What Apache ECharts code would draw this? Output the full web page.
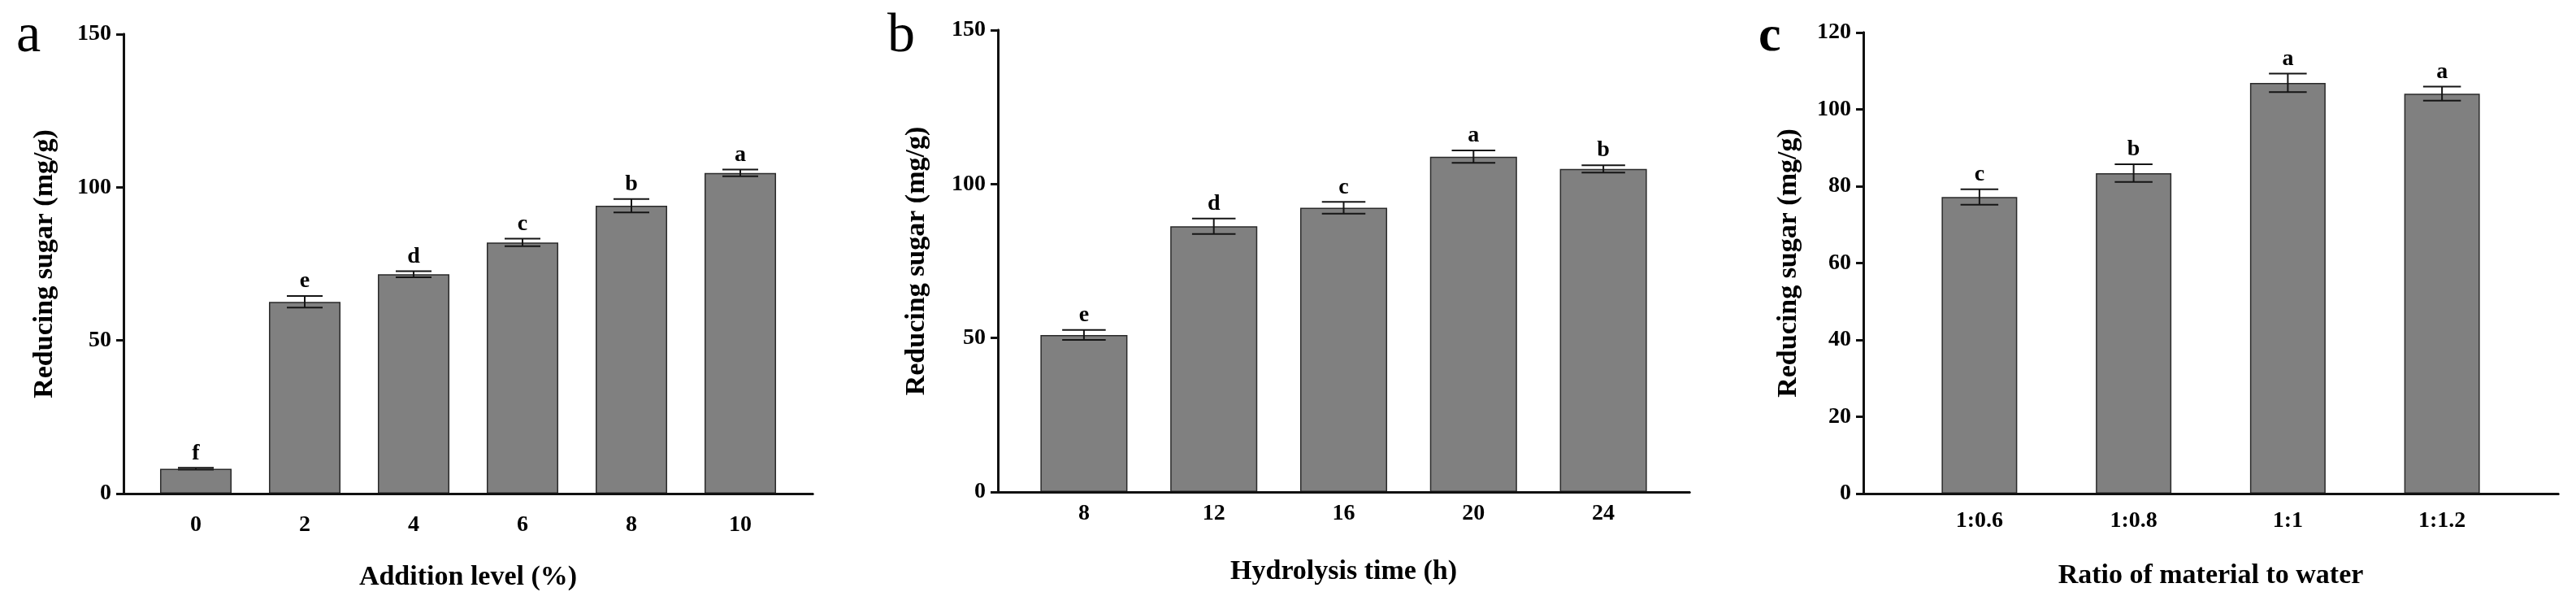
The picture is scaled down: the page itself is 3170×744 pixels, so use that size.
<!DOCTYPE html>
<html><head><meta charset="utf-8">
<script src="https://cdn.jsdelivr.net/npm/echarts@6/dist/echarts.min.js"></script>
<style>html,body{margin:0;padding:0;background:#fff;}#c{width:3170px;height:744px;}</style>
</head><body><div id="c"></div>
<script>
// ---- Data ----
const catsA = ['0', '2', '4', '6', '8', '10'];
const meansA = [8.1, 62.6, 71.6, 82.0, 94.0, 104.7];
const sdA = [0.3, 1.9, 1.0, 1.2, 2.2, 1.1];
const lettersA = ['f', 'e', 'd', 'c', 'b', 'a'];

const catsB = ['8', '12', '16', '20', '24'];
const meansB = [51.0, 86.3, 92.3, 108.9, 104.9];
const sdB = [1.6, 2.5, 1.9, 2.0, 1.2];
const lettersB = ['e', 'd', 'c', 'a', 'b'];

const catsC = ['1:0.6', '1:0.8', '1:1', '1:1.2'];
const meansC = [77.2, 83.4, 106.9, 104.1];
const sdC = [2.0, 2.3, 2.4, 1.8];
const lettersC = ['c', 'b', 'a', 'a'];

const yTitle = 'Reducing sugar (mg/g)';
const xTitleA = 'Addition level (%)';
const xTitleB = 'Hydrolysis time (h)';
const xTitleC = 'Ratio of material to water';

// ---- Layout / style ----
const FONT = '"Liberation Serif", "Times New Roman", serif';
const INK = '#111';
const panels = [
  { cats: catsA, means: meansA, sd: sdA, letters: lettersA, xTitle: xTitleA,
    frame: { left: 152, right: 1000, top: 42, bottom: 607 }, inset: 22, barW: 0.657,
    yMax: 150, yInt: 50, yNameGap: 80, xLabelMargin: 25, xNameGap: 86 },
  { cats: catsB, means: meansB, sd: sdB, letters: lettersB, xTitle: xTitleB,
    frame: { left: 1228, right: 2079, top: 37, bottom: 605 }, inset: 26, barW: 0.67,
    yMax: 150, yInt: 50, yNameGap: 83, xLabelMargin: 13, xNameGap: 81 },
  { cats: catsC, means: meansC, sd: sdC, letters: lettersC, xTitle: xTitleC,
    frame: { left: 2293, right: 3148, top: 40, bottom: 607 }, inset: 48, barW: 0.49,
    yMax: 120, yInt: 20, yNameGap: 75, xLabelMargin: 20, xNameGap: 84 }
];

const grid = [], xAxis = [], yAxis = [], series = [];
panels.forEach((p, k) => {
  const f = p.frame;
  const fg = grid.length;
  grid.push({ left: f.left, top: f.top, width: f.right - f.left, height: f.bottom - f.top });
  const bg = grid.length;
  grid.push({ left: f.left + p.inset, top: f.top, width: f.right - f.left - 2 * p.inset, height: f.bottom - f.top });

  const lineS = { show: true, lineStyle: { color: INK, width: 3 } };
  // frame axes
  const fxb = xAxis.length;
  xAxis.push({ gridIndex: fg, type: 'value', min: 0, max: 1, position: 'bottom', z: 10,
    axisLine: lineS, axisTick: { show: false }, axisLabel: { show: false }, splitLine: { show: false } });
  xAxis.push({ gridIndex: fg, type: 'value', min: 0, max: 1, position: 'top', z: 10,
    axisLine: lineS, axisTick: { show: false }, axisLabel: { show: false }, splitLine: { show: false } });
  yAxis.push({ gridIndex: fg, type: 'value', min: 0, max: p.yMax, interval: p.yInt, position: 'left', z: 10,
    axisLine: lineS,
    axisTick: { show: true, inside: false, length: 9, lineStyle: { color: INK, width: 3 } },
    axisLabel: { fontFamily: FONT, fontWeight: 'bold', fontSize: 28, color: '#000', margin: 15 },
    splitLine: { show: false },
    name: yTitle, nameLocation: 'middle', nameGap: p.yNameGap, nameRotate: 90,
    nameTextStyle: { fontFamily: FONT, fontWeight: 'bold', fontSize: 34, color: '#000' } });
  yAxis.push({ gridIndex: fg, type: 'value', min: 0, max: p.yMax, position: 'right', z: 10,
    axisLine: lineS, axisTick: { show: false }, axisLabel: { show: false }, splitLine: { show: false } });

  // bar axes
  const bx = xAxis.length;
  xAxis.push({ gridIndex: bg, type: 'category', data: p.cats, position: 'bottom',
    axisLine: { show: false }, axisTick: { show: false },
    axisLabel: { fontFamily: FONT, fontWeight: 'bold', fontSize: 28, color: '#000', margin: p.xLabelMargin },
    name: p.xTitle, nameLocation: 'middle', nameGap: p.xNameGap,
    nameTextStyle: { fontFamily: FONT, fontWeight: 'bold', fontSize: 34, color: '#000' } });
  const by = yAxis.length;
  yAxis.push({ gridIndex: bg, type: 'value', min: 0, max: p.yMax, show: false });

  series.push({ type: 'bar', xAxisIndex: bx, yAxisIndex: by, data: p.means,
    barWidth: (p.barW * 100) + '%',
    itemStyle: { color: '#808080', borderColor: '#2a2a2a', borderWidth: 1.5 } });

  const ratio = p.barW;
  const letters = p.letters;
  series.push({ type: 'custom', xAxisIndex: bx, yAxisIndex: by, z: 6,
    data: p.means.map((m, i) => [i, m, p.sd[i]]),
    renderItem: function (params, api) {
      const i = api.value(0), m = api.value(1), s = api.value(2);
      const t = api.coord([i, m + s]);
      const b = api.coord([i, m - s]);
      const band = api.size([1, 0])[0];
      const hw = band * ratio / 4;
      const x = t[0];
      const st = { stroke: '#151515', lineWidth: 2 };
      return { type: 'group', children: [
        { type: 'line', shape: { x1: x, y1: t[1], x2: x, y2: b[1] }, style: st },
        { type: 'line', shape: { x1: x - hw, y1: t[1], x2: x + hw, y2: t[1] }, style: st },
        { type: 'line', shape: { x1: x - hw, y1: b[1], x2: x + hw, y2: b[1] }, style: st },
        { type: 'text', x: x, y: t[1] - 4, style: { text: letters[params.dataIndex], align: 'center', verticalAlign: 'bottom',
          fontFamily: FONT, fontWeight: 'bold', fontSize: 28, fill: '#000' } }
      ] };
    } });
});

const option = {
  animation: false,
  backgroundColor: '#fff',
  grid, xAxis, yAxis, series,
  graphic: [
    { type: 'text', x: 20, y: 45, style: { text: 'a', fontFamily: FONT, fontSize: 68, fill: '#000', align: 'left', verticalAlign: 'middle' } },
    { type: 'text', x: 1092, y: 45, style: { text: 'b', fontFamily: FONT, fontSize: 68, fill: '#000', align: 'left', verticalAlign: 'middle' } },
    { type: 'text', x: 2164, y: 46, style: { text: 'c', fontFamily: FONT, fontWeight: 'bold', fontSize: 62, fill: '#000', align: 'left', verticalAlign: 'middle' } }
  ]
};
const chart = echarts.init(document.getElementById('c'), null, { renderer: 'canvas' });
chart.setOption(option);
</script>
</body></html>
